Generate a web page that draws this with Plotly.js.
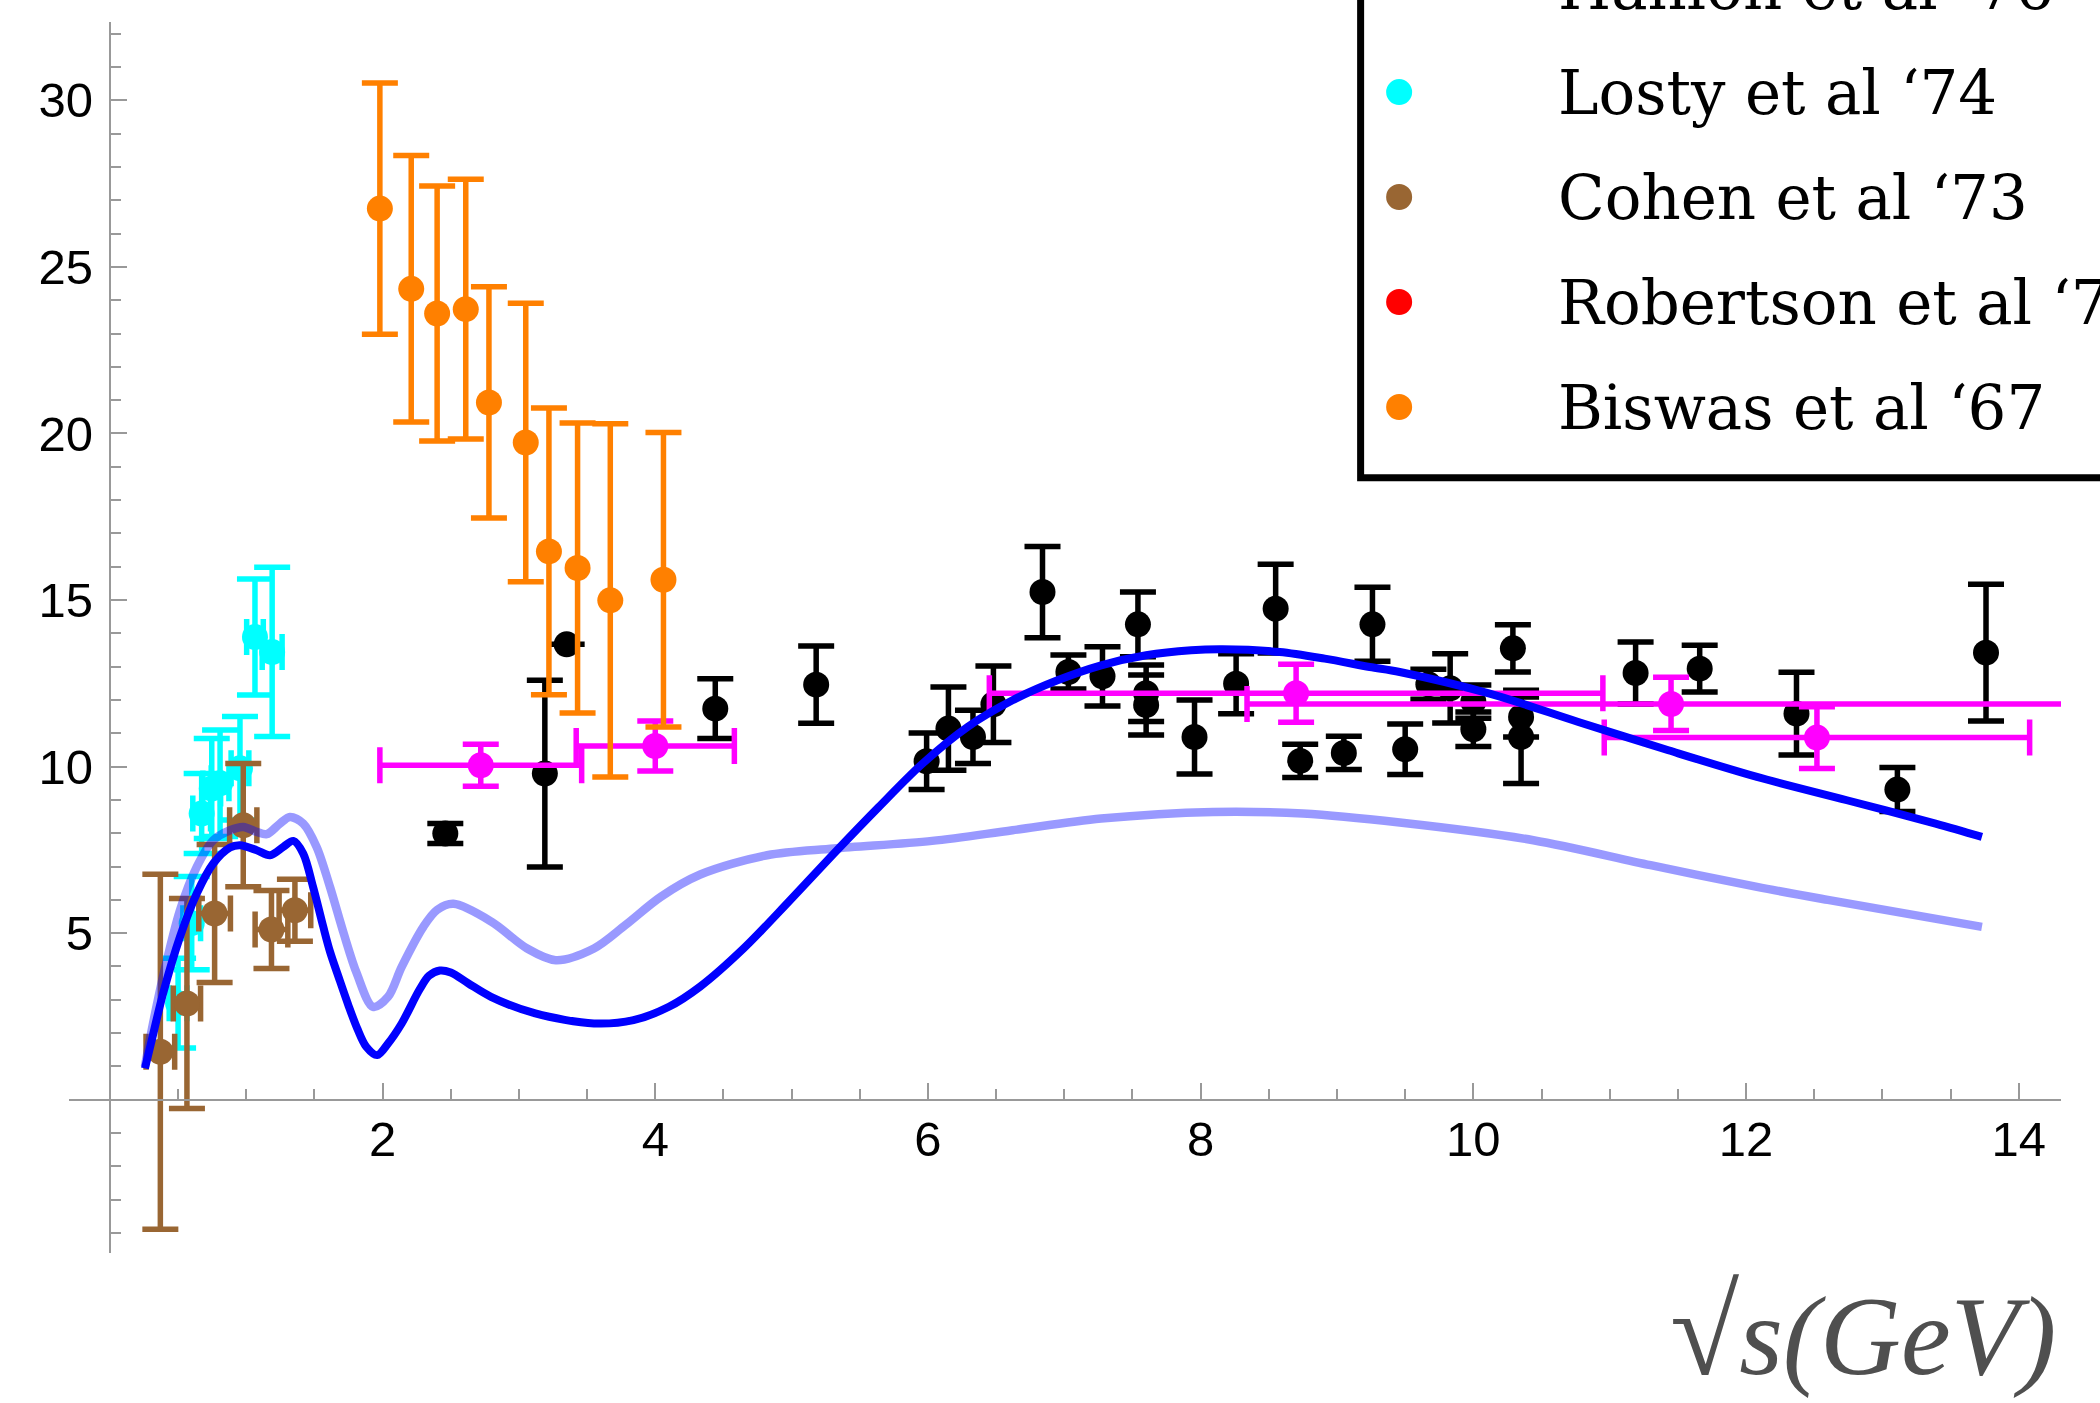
<!DOCTYPE html>
<html>
<head>
<meta charset="utf-8">
<script src="https://cdn.plot.ly/plotly-3.0.1.min.js"></script>
<style>
html,body{margin:0;padding:0;background:#fff;}
#chart{width:2100px;height:1403px;}
</style>
</head>
<body>
<div id="chart"></div>
<script>
// ---------- data ----------
// black data points (their legend entry is cut off above the page)
const blackX = [2.46, 3.19, 3.35, 4.44, 5.18, 5.99, 6.15, 6.33, 6.48, 6.84, 7.03, 7.28, 7.54, 7.60, 7.60, 7.955, 8.26, 8.55, 8.73, 9.05, 9.26, 9.50, 9.67, 9.83, 10.0, 10.0, 10.29, 10.35, 10.35, 11.19, 11.66, 12.37, 13.11, 13.76];
const blackY = [7.99, 9.79, 13.67, 11.74, 12.46, 10.16, 11.14, 10.89, 11.87, 15.24, 12.84, 12.71, 14.27, 12.2, 11.85, 10.89, 12.49, 14.74, 10.17, 10.41, 14.27, 10.52, 12.47, 12.35, 11.95, 11.12, 13.55, 11.49, 10.89, 12.81, 12.94, 11.59, 9.31, 13.42];
const blackErr = [0.3, 2.8, null, 0.9, 1.16, 0.85, 1.25, 0.8, 1.15, 1.37, 0.51, 0.89, 0.97, 0.85, 0.9, 1.11, 0.9, 1.33, 0.5, 0.5, 1.11, 0.76, 0.45, 1.04, 0.5, 0.52, 0.71, 0.6, 1.4, 0.93, 0.7, 1.24, 0.66, 2.05];

// Hanlon et al '76 (magenta)
const hanlonX = [2.72, 4.00, 8.70, 11.45, 12.52];
const hanlonY = [10.04, 10.62, 12.20, 11.88, 10.87];
const hanlonErrX = [0.74, 0.58, 2.25, 3.11, 1.56];
const hanlonErrY = [0.63, 0.75, 0.87, 0.8, 0.93];

// Losty et al '74 (cyan)
const lostyX = [0.50, 0.60, 0.673, 0.747, 0.808, 0.954, 1.064, 1.19];
const lostyY = [2.9, 5.3, 8.59, 9.34, 9.5, 9.95, 13.89, 13.44];
const lostyErrY = [1.35, 1.4, 1.2, 1.5, 1.6, 1.55, 1.74, 2.54];
const lostyErrX = [0.065, 0.065, 0.065, 0.065, 0.065, 0.065, 0.061, 0.073];

// Cohen et al '73 (brown)
const cohenX = [0.37, 0.565, 0.768, 0.978, 1.185, 1.357];
const cohenY = [1.44, 2.89, 5.59, 8.24, 5.11, 5.69];
const cohenErrY = [5.33, 3.15, 2.07, 1.85, 1.17, 0.93];
const cohenErrX = [0.105, 0.1, 0.116, 0.1, 0.12, 0.116];

// Biswas et al '67 (orange)
const biswasX = [1.98, 2.21, 2.40, 2.61, 2.78, 3.05, 3.22, 3.43, 3.67, 4.06];
const biswasY = [26.75, 24.34, 23.6, 23.73, 20.93, 19.73, 16.46, 15.96, 14.99, 15.61];
const biswasErr = [3.77, 4.0, 3.83, 3.9, 3.47, 4.18, 4.3, 4.35, 5.3, 4.42];

// model curves
const lightX = [0.257, 0.307, 0.39, 0.514, 0.637, 0.758, 0.881, 0.978, 1.077, 1.15, 1.247, 1.32, 1.418, 1.516, 1.614, 1.715, 1.81, 1.93, 2.04, 2.14, 2.30, 2.40, 2.52, 2.80, 3.06, 3.27, 3.55, 3.78, 4.04, 4.33, 4.82, 5.31, 6.03, 6.62, 7.27, 8.09, 8.75, 9.46, 10.44, 11.30, 12.08, 12.6, 13.73];
const lightY = [1.0, 2.1, 3.7, 5.69, 6.99, 7.79, 8.09, 8.19, 8.04, 7.97, 8.29, 8.49, 8.29, 7.59, 6.39, 4.99, 3.8, 2.79, 3.09, 3.99, 5.2, 5.7, 5.88, 5.34, 4.54, 4.19, 4.54, 5.24, 6.09, 6.76, 7.34, 7.54, 7.77, 8.09, 8.44, 8.64, 8.59, 8.32, 7.79, 7.04, 6.39, 6.0, 5.19];
const darkX = [0.257, 0.307, 0.39, 0.514, 0.637, 0.758, 0.881, 0.954, 1.077, 1.174, 1.272, 1.345, 1.418, 1.49, 1.565, 1.614, 1.68, 1.748, 1.813, 1.88, 1.96, 2.04, 2.14, 2.27, 2.34, 2.42, 2.50, 2.63, 2.795, 3.12, 3.55, 3.84, 4.10, 4.33, 4.65, 4.98, 5.31, 5.64, 5.96, 6.29, 6.62, 6.95, 7.27, 7.60, 7.93, 8.16, 8.58, 8.91, 9.24, 9.46, 10.12, 10.77, 11.43, 12.08, 12.74, 13.39, 13.73];
const darkY = [0.94, 1.79, 3.19, 4.89, 6.19, 7.09, 7.57, 7.64, 7.49, 7.34, 7.59, 7.77, 7.39, 6.39, 5.19, 4.45, 3.65, 2.85, 2.15, 1.59, 1.34, 1.69, 2.29, 3.3, 3.72, 3.88, 3.82, 3.49, 3.09, 2.59, 2.29, 2.39, 2.79, 3.4, 4.55, 5.95, 7.39, 8.79, 10.09, 11.19, 11.99, 12.59, 13.04, 13.34, 13.49, 13.52, 13.44, 13.24, 12.99, 12.84, 12.19, 11.34, 10.49, 9.69, 8.99, 8.29, 7.89];

// axis ticks
const xTickVals = [2, 4, 6, 8, 10, 12, 14];
const yTickVals = [5, 10, 15, 20, 25, 30];

// legend entries (top of the legend box lies above the page, as in the reference)
const legendNames = ["Hanlon et al \u201876", "Losty et al \u201874", "Cohen et al \u201873", "Robertson et al \u201873", "Biswas et al \u201867"];
const legendColors = ["#FF00FF", "#00FFFF", "#996633", "#FF0000", "#FF8000"];

// ---------- layout constants ----------
const W = 2100, H = 1403;
const M = {l: 69.2, r: 39.3, t: 21.6, b: 150.1};
const XR = [-0.3, 14.31], YR = [-4.6, 32.35];
const plotW = W - M.l - M.r, plotH = H - M.t - M.b;
const px2paperX = px => (px - M.l) / plotW;
const px2paperY = py => (H - M.b - py) / plotH;

function errTrace(x, y, ey, ex, color, name) {
  const t = {
    type: 'scatter', mode: 'markers', name: name, x: x, y: y,
    marker: {color: color, size: 26},
    error_y: {type: 'data', array: ey, visible: true, color: color, thickness: 5.5, width: 18},
    hoverinfo: 'skip'
  };
  if (ex) t.error_x = {type: 'data', array: ex, visible: true, color: color, thickness: 5.5, width: 18};
  return t;
}

const traces = [
  errTrace(blackX, blackY, blackErr, null, '#000000', 'data'),
  errTrace(hanlonX, hanlonY, hanlonErrY, hanlonErrX, '#FF00FF', legendNames[0]),
  errTrace(lostyX, lostyY, lostyErrY, lostyErrX, '#00FFFF', legendNames[1]),
  errTrace(cohenX, cohenY, cohenErrY, cohenErrX, '#996633', legendNames[2]),
  errTrace(biswasX, biswasY, biswasErr, null, '#FF8000', legendNames[4]),
  {type: 'scatter', mode: 'lines', name: 'model (light)', x: lightX, y: lightY,
   line: {color: 'rgba(0,0,255,0.4)', width: 8.5, shape: 'spline', smoothing: 0.9}, hoverinfo: 'skip'},
  {type: 'scatter', mode: 'lines', name: 'model', x: darkX, y: darkY,
   line: {color: '#0000FF', width: 8, shape: 'spline', smoothing: 0.9}, hoverinfo: 'skip'}
];

const axisCommon = {
  anchor: 'free', showline: true, linecolor: '#999999', linewidth: 2,
  ticks: 'inside', ticklen: 16, tickwidth: 2, tickcolor: '#999999',
  showgrid: false, zeroline: false,
  tickfont: {family: 'Liberation Sans, Arial, sans-serif', size: 49, color: '#000000'},
  tickmode: 'array'
};

const shapes = [{
  type: 'rect', xref: 'paper', yref: 'paper', layer: 'above',
  x0: px2paperX(1360.5), x1: px2paperX(2250), y0: px2paperY(477.5), y1: px2paperY(-150),
  line: {color: '#000000', width: 7}, fillcolor: '#ffffff'
}];
const annotations = [];
const legendTop = -13.3, legendStep = 105, dotR = 13;
legendNames.forEach((nm, i) => {
  const cy = legendTop + i * legendStep;
  shapes.push({
    type: 'circle', xref: 'paper', yref: 'paper', layer: 'above',
    x0: px2paperX(1399 - dotR), x1: px2paperX(1399 + dotR),
    y0: px2paperY(cy + dotR), y1: px2paperY(cy - dotR),
    fillcolor: legendColors[i], line: {width: 0}
  });
  annotations.push({
    xref: 'paper', yref: 'paper', x: px2paperX(1556), y: px2paperY(cy),
    xanchor: 'left', yanchor: 'middle', showarrow: false, text: nm,
    font: {family: 'DejaVu Serif', size: 61, color: '#000000'}
  });
});
// x-axis label, placed at the lower right as in the reference
annotations.push({
  xref: 'paper', yref: 'paper', x: px2paperX(2058), y: px2paperY(1403),
  xanchor: 'right', yanchor: 'bottom', showarrow: false,
  text: "<span style='font-style:normal;font-size:126px'>\u221A</span><i>s(GeV)</i>",
  font: {family: 'Liberation Serif', size: 112, color: '#4f4f4f'}
});

const layout = {
  width: W, height: H,
  margin: {l: M.l, r: M.r, t: M.t, b: M.b, pad: 0, autoexpand: false},
  paper_bgcolor: '#ffffff', plot_bgcolor: '#ffffff',
  showlegend: false,
  xaxis: Object.assign({}, axisCommon, {
    range: XR, position: (0 - YR[0]) / (YR[1] - YR[0]),
    tickvals: xTickVals, ticktext: xTickVals.map(String),
    ticklabelstandoff: -4,
    minor: {ticks: 'inside', ticklen: 10, tickwidth: 2, tickcolor: '#999999', tickmode: 'linear', tick0: 0, dtick: 0.5, showgrid: false}
  }),
  yaxis: Object.assign({}, axisCommon, {
    range: YR, position: (0 - XR[0]) / (XR[1] - XR[0]),
    tickvals: yTickVals, ticktext: yTickVals.map(String),
    ticklabelstandoff: 6,
    minor: {ticks: 'inside', ticklen: 10, tickwidth: 2, tickcolor: '#999999', tickmode: 'linear', tick0: 0, dtick: 1, showgrid: false}
  }),
  shapes: shapes,
  annotations: annotations
};

Plotly.newPlot('chart', traces, layout, {displayModeBar: false, staticPlot: true});
</script>
</body>
</html>
